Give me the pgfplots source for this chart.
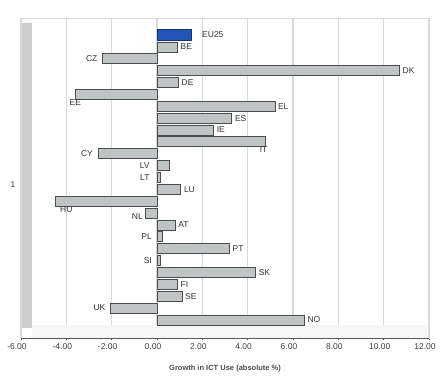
\documentclass[border=0pt]{standalone}
\usepackage{fontspec}
\setmainfont{Liberation Sans}
\usepackage{pgfplots}
\pgfplotsset{compat=1.18}
\definecolor{barfill}{RGB}{192,196,196}
\definecolor{baredge}{RGB}{75,78,78}
\definecolor{eublue}{RGB}{35,85,185}
\definecolor{gridc}{RGB}{214,218,224}
\definecolor{labc}{RGB}{50,50,50}
\begin{document}
\begin{tikzpicture}
\path[use as bounding box] (-21pt,-45pt) rectangle (420pt,338pt);
\begin{axis}[
  width=408pt, height=320pt, scale only axis,
  xmin=-6, xmax=12, ymin=-0.43, ymax=26.52, y dir=reverse,
  xtick distance=2, minor x tick num=3,
  ytick={13.6}, yticklabels={1},
  xmajorgrids=true,
  major grid style={draw=gridc, line width=1.2pt},
  axis line style={gray!30},
  xtick pos=left, ytick pos=left,
  tick align=center,
  major y tick style={draw=none},
  major x tick style={draw=black!70, line width=0.6pt},
  minor x tick style={draw=black!70, line width=0.6pt},
  xticklabel style={font=\fontsize{8.5}{9}\selectfont, text=black!75, xshift=-4pt},
  yticklabel style={font=\fontsize{8.5}{9}\selectfont, text=black!75},
  /pgf/number format/.cd, fixed, fixed zerofill, precision=2, assume math mode=true,
  /pgfplots/.cd,
  xlabel={Growth in ICT Use (absolute \%)},
  xlabel style={font=\bfseries\fontsize{7.5}{8}\selectfont, text=black!70, yshift=-9pt},
  clip=false,
]
% decorative 3D walls
\fill[gray!40] (rel axis cs:0.003,0.03) rectangle (rel axis cs:0.028,0.985);
\fill[gray!7] (rel axis cs:0.028,0) rectangle (rel axis cs:0.995,0.04);
\draw[black!65, line width=0.6pt] (rel axis cs:0,0) -- (rel axis cs:1,0);

\addplot[xbar, bar width=10pt, bar shift=0pt, fill=barfill, draw=baredge, line width=0.7pt] table[x=v, y=r] {
v r
0.9 2
-2.4 3
10.7 4
0.95 5
-3.6 6
5.2 7
3.3 8
2.5 9
4.8 10
-2.6 11
0.55 12
0.15 13
1.05 14
-4.5 15
-0.5 16
0.8 17
0.25 18
3.2 19
0.15 20
4.35 21
0.9 22
1.1 23
-2.05 24
6.5 25
};
\addplot[xbar, bar width=11pt, bar shift=0pt, fill=eublue, draw=eublue!60!black, line width=0.7pt] coordinates {(1.5,1)};

% labels right of bar ends
\addplot[only marks, mark=*, mark size=0pt, mark options={draw=none,fill=none},
  nodes near coords, point meta=explicit symbolic,
  nodes near coords style={anchor=west, font=\fontsize{8.5}{9}\selectfont, text=labc, inner sep=1pt, xshift=2pt}]
  table[x=v, y=r, meta=lab] {
v r lab
0.9 2 BE
10.7 4 DK
0.95 5 DE
5.2 7 EL
3.3 8 ES
2.5 9 IE
1.05 14 LU
0.8 17 AT
3.2 19 PT
4.35 21 SK
0.9 22 FI
1.1 23 SE
6.5 25 NO
};
\addplot[only marks, mark=*, mark size=0pt, mark options={draw=none,fill=none},
  nodes near coords, point meta=explicit symbolic,
  nodes near coords style={anchor=west, font=\fontsize{8.5}{9}\selectfont, text=labc, inner sep=1pt, xshift=10pt}]
  table[x=v, y=r, meta=lab] {
v r lab
1.5 1 EU25
};
% labels left
\addplot[only marks, mark=*, mark size=0pt, mark options={draw=none,fill=none},
  nodes near coords, point meta=explicit symbolic,
  nodes near coords style={anchor=east, font=\fontsize{8.5}{9}\selectfont, text=labc, inner sep=1pt, xshift=-4pt}]
  table[x=v, y=r, meta=lab] {
v r lab
-2.4 3 CZ
-2.6 11 CY
-0.1 12 LV
-0.1 13 LT
-0.4 16.3 NL
0 18 PL
0 20 SI
-2.05 24 UK
};
% labels below
\addplot[only marks, mark=*, mark size=0pt, mark options={draw=none,fill=none},
  nodes near coords, point meta=explicit symbolic,
  nodes near coords style={anchor=north, font=\fontsize{8.5}{9}\selectfont, text=labc, inner sep=1pt, yshift=-4pt}]
  table[x=v, y=r, meta=lab] {
v r lab
-3.6 6 EE
4.7 10 IT
-4.0 15 HU
};
\end{axis}
\end{tikzpicture}
\end{document}
